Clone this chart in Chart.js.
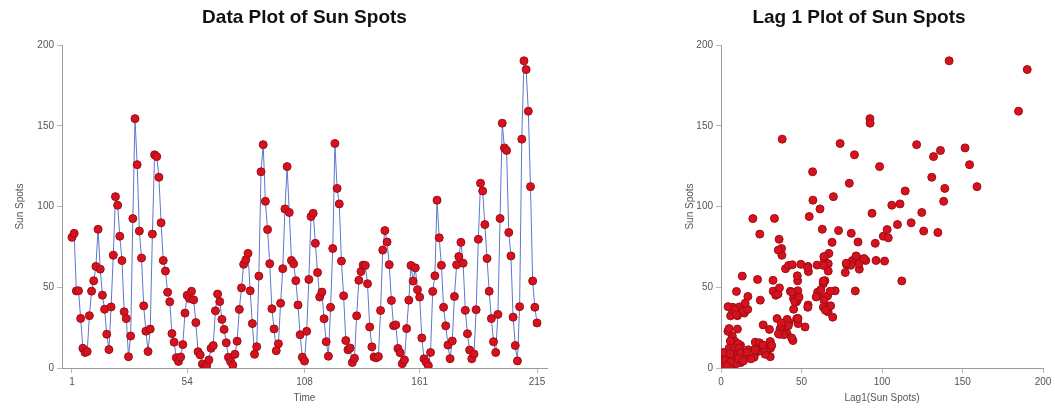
<!DOCTYPE html>
<html>
<head>
<meta charset="utf-8">
<script src="https://cdn.jsdelivr.net/npm/chart.js@4/dist/chart.umd.min.js"></script>
<style>
  html, body { margin: 0; padding: 0; background: #fff; }
  body { width: 1055px; height: 409px; position: relative; overflow: hidden; }
  canvas { position: absolute; top: 0; }
  #dataPlot { left: 0; }
  #lagPlot { left: 675px; }
</style>
</head>
<body>
<canvas id="dataPlot" width="609" height="409"></canvas>
<canvas id="lagPlot" width="380" height="409"></canvas>
<script>
// yearly sun spot numbers, one value per time step
const sunSpots = [
  80.9, 83.4, 47.7, 47.8, 30.7, 12.2, 9.6, 10.2, 32.4, 47.6,
  54.0, 62.9, 85.9, 61.2, 45.1, 36.4, 20.9, 11.4, 37.8, 69.8,
  106.1, 100.8, 81.6, 66.5, 34.8, 30.6, 7.0, 19.8, 92.5, 154.4,
  125.9, 84.8, 68.1, 38.5, 22.8, 10.2, 24.1, 82.9, 132.0, 130.9,
  118.1, 89.9, 66.6, 60.0, 46.9, 41.0, 21.3, 16.0, 6.4, 4.1,
  6.8, 14.5, 34.0, 45.0, 43.1, 47.5, 42.2, 28.1, 10.1, 8.1,
  2.5, 0.0, 1.4, 5.0, 12.2, 13.9, 35.4, 45.8, 41.1, 30.1,
  23.9, 15.6, 6.6, 4.0, 1.8, 8.5, 16.6, 36.3, 49.6, 64.2,
  67.0, 70.9, 47.8, 27.5, 8.5, 13.2, 56.9, 121.5, 138.3, 103.2,
  85.7, 64.6, 36.7, 24.2, 10.7, 15.0, 40.1, 61.5, 98.5, 124.7,
  96.3, 66.6, 64.5, 54.1, 39.0, 20.6, 6.7, 4.3, 22.7, 54.8,
  93.8, 95.8, 77.2, 59.1, 44.0, 47.0, 30.5, 16.3, 7.3, 37.6,
  74.0, 139.0, 111.2, 101.6, 66.2, 44.7, 17.0, 11.3, 12.4, 3.4,
  6.0, 32.3, 54.3, 59.7, 63.7, 63.5, 52.2, 25.4, 13.1, 6.8,
  6.3, 7.1, 35.6, 73.0, 85.1, 78.0, 64.0, 41.8, 26.2, 26.7,
  12.1, 9.5, 2.7, 5.0, 24.4, 42.0, 63.5, 53.8, 62.0, 48.5,
  43.9, 18.6, 5.7, 3.6, 1.4, 9.6, 47.4, 57.1, 103.9, 80.6,
  63.6, 37.6, 26.1, 14.2, 5.8, 16.7, 44.3, 63.9, 69.0, 77.8,
  64.9, 35.7, 21.2, 11.1, 5.7, 8.7, 36.1, 79.7, 114.4, 109.6,
  88.8, 67.8, 47.5, 30.6, 16.3, 9.6, 33.2, 92.6, 151.6, 136.3,
  134.7, 83.9, 69.4, 31.5, 13.9, 4.4, 38.0, 141.7, 190.2, 184.8,
  159.0, 112.3, 53.9, 37.6, 27.9
];

const timeTicks = [1, 54, 108, 161, 215];
const spotTicks = [0, 50, 100, 150, 200];
const lagTicks = [0, 50, 100, 150, 200];

const timePoints = sunSpots.map((v, i) => ({ x: i + 1, y: v }));
// pair each value with the one before it
const lagPoints = sunSpots.slice(1).map((v, i) => ({ x: sunSpots[i], y: v }));

const FONT = "'Liberation Sans', Arial, sans-serif";
const DOT_FILL = '#d8121c';
const DOT_EDGE = '#9c0d1a';

function fixedTicks(values) {
  return function (scale) {
    scale.ticks = values.map(v => ({ value: v }));
  };
}

function axisStyle() {
  return {
    border: { display: true, color: '#9a9a9a', width: 1 },
    grid: { display: true, drawOnChartArea: false, drawTicks: true, tickLength: 5, color: '#b8b8b8' },
    ticks: { color: '#555', font: { family: FONT, size: 10 }, padding: 3, autoSkip: false, maxRotation: 0 }
  };
}

function titleStyle(text, full) {
  return {
    display: true,
    text: text,
    fullSize: full,
    color: '#111',
    font: { family: FONT, size: 19, weight: 'bold', lineHeight: 1.2 },
    padding: { top: 6, bottom: 16.2 }
  };
}

new Chart(document.getElementById('dataPlot'), {
  type: 'line',
  data: {
    datasets: [{
      data: timePoints,
      borderColor: '#5a78cf',
      borderWidth: 1,
      tension: 0,
      pointRadius: 4,
      pointBackgroundColor: DOT_FILL,
      pointBorderColor: DOT_EDGE,
      pointBorderWidth: 1
    }]
  },
  options: {
    responsive: false,
    animation: false,
    layout: { padding: { left: 0, right: 62, top: 0, bottom: 0 } },
    plugins: {
      legend: { display: false },
      tooltip: { enabled: false },
      title: titleStyle('Data Plot of Sun Spots', false)
    },
    scales: {
      x: Object.assign(axisStyle(), {
        type: 'linear',
        min: -3.6,
        max: 219.6,
        afterBuildTicks: fixedTicks(timeTicks),
        afterFit: s => { s.height = 41; },
        title: { display: true, text: 'Time', color: '#555', font: { family: FONT, size: 10 }, padding: { top: 0, bottom: 5 } }
      }),
      y: Object.assign(axisStyle(), {
        min: 0,
        max: 200,
        afterBuildTicks: fixedTicks(spotTicks),
        afterFit: s => { s.width = 62; },
        title: { display: true, text: 'Sun Spots', color: '#555', font: { family: FONT, size: 10 }, padding: { top: 14, bottom: 0 } }
      })
    }
  }
});

new Chart(document.getElementById('lagPlot'), {
  type: 'scatter',
  data: {
    datasets: [{
      data: lagPoints,
      pointRadius: 4,
      pointBackgroundColor: DOT_FILL,
      pointBorderColor: DOT_EDGE,
      pointBorderWidth: 1
    }]
  },
  options: {
    responsive: false,
    animation: false,
    layout: { padding: { left: 0, right: 12, top: 0, bottom: 0 } },
    plugins: {
      legend: { display: false },
      tooltip: { enabled: false },
      title: titleStyle('Lag 1 Plot of Sun Spots', true)
    },
    scales: {
      x: Object.assign(axisStyle(), {
        type: 'linear',
        min: 0,
        max: 200,
        afterBuildTicks: fixedTicks(lagTicks),
        afterFit: s => { s.height = 41; },
        title: { display: true, text: 'Lag1(Sun Spots)', color: '#555', font: { family: FONT, size: 10 }, padding: { top: 0, bottom: 5 } }
      }),
      y: Object.assign(axisStyle(), {
        min: 0,
        max: 200,
        afterBuildTicks: fixedTicks(spotTicks),
        afterFit: s => { s.width = 46; },
        title: { display: true, text: 'Sun Spots', color: '#555', font: { family: FONT, size: 10 }, padding: { top: 9, bottom: 0 } }
      })
    }
  }
});
</script>
</body>
</html>
